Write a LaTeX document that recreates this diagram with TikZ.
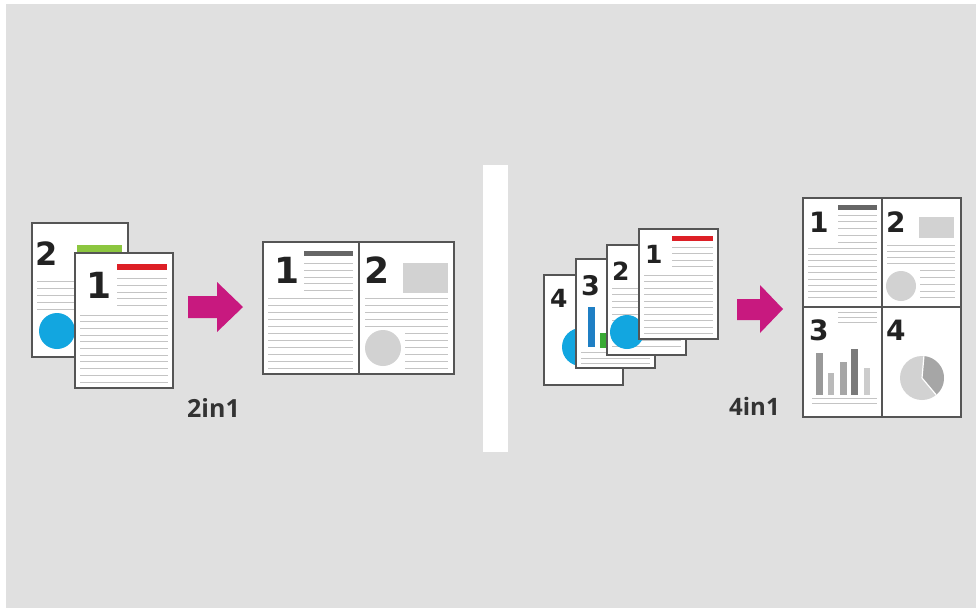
\documentclass[tikz,border=0pt]{standalone}
\usepackage{fontspec}
\setmainfont{Open Sans}
\newfontfamily\digfont{DejaVu Sans}
\definecolor{bggray}{HTML}{E0E0E0}
\definecolor{frame}{HTML}{555555}
\definecolor{txtline}{HTML}{C4C4C4}
\definecolor{magarrow}{HTML}{C8197F}
\definecolor{cyanc}{HTML}{12A6E0}
\definecolor{redbar}{HTML}{DD1F26}
\definecolor{greenbar}{HTML}{8CC63F}
\definecolor{bluebar}{HTML}{1F7FC4}
\definecolor{greenb}{HTML}{3AAA35}
\definecolor{lightfill}{HTML}{D2D2D2}
\definecolor{digit}{HTML}{222222}
\tikzset{
  pagebox/.style={fill=white,draw=frame,line width=2pt},
  tline/.style={draw=txtline,line width=1pt},
  dig/.style={inner sep=0pt,anchor=base west,text=digit,font=\digfont\bfseries\fontsize{#1}{#1}\selectfont},
  lbl/.style={inner sep=0pt,anchor=base west,text=black!80,font=\bfseries\fontsize{#1}{#1}\selectfont},
  blockarrow/.style={fill=magarrow,draw=none}
}
\begin{document}
\begin{tikzpicture}[x=1pt,y=-1pt]
\useasboundingbox (0,0) rectangle (976,608);
\fill[white] (0,0) rectangle (976,608);
\fill[bggray] (6,4) rectangle (976,608);

% ---------- left stack ----------
% page 2
\draw[pagebox] (32,223) rectangle (128,357);
\node[dig=32] (l2num) at (35,265) {2};
\fill[greenbar] (77,245) rectangle (122,262);
\foreach \y in {281,288,295,302,309} \draw[tline] (37,\y) -- (122,\y);
\fill[cyanc] (57,331) circle (18);
% page 1
\draw[pagebox] (75,253) rectangle (173,388);
\node[dig=36] (l1num) at (86,298) {1};
\fill[redbar] (117,264) rectangle (167,270);
\foreach \y in {278,285,292,298,305} \draw[tline] (117,\y) -- (167,\y);
\foreach \i in {0,...,10} \draw[tline] (80,315+\i*6.7) -- (168,315+\i*6.7);

% arrow left
\fill[blockarrow] (188,296) -- (217,296) -- (217,282) -- (243,307) -- (217,332) -- (217,318) -- (188,318) -- cycle;
\node[lbl=25] (lab2) at (187,417) {2in1};

% ---------- 2in1 result ----------
\fill[white] (263,242) rectangle (454,374);
\fill[frame!90] (304,251) rectangle (353,256);
\node[dig=36] (r1num) at (274,283) {1};
\foreach \y in {263,270,277,283,290} \draw[tline] (304,\y) -- (353,\y);
\foreach \i in {0,...,10} \draw[tline] (268,298+\i*7) -- (353,298+\i*7);
\node[dig=36] (r2num) at (364,283) {2};
\fill[lightfill] (403,263) rectangle (448,293);
\foreach \y in {298,305,312,319,326} \draw[tline] (365,\y) -- (448,\y);
\foreach \y in {333,340,347,354,361,368} \draw[tline] (405,\y) -- (448,\y);
\fill[lightfill] (383,348) circle (18);
\draw[frame,line width=2.6pt] (263,242) rectangle (454,374);
\draw[frame,line width=2.6pt] (359,242) -- (359,374);

% divider
\fill[white] (483,165) rectangle (508,452);

% ---------- right stack ----------
% page 4
\draw[pagebox] (544,275) rectangle (623,385);
\node[dig=25] (s4num) at (550,307) {4};
\fill[cyanc] (581,347) circle (19);
% page 3
\draw[pagebox] (576,259) rectangle (655,368);
\node[dig=27] (s3num) at (581,295) {3};
\fill[bluebar] (588,307) rectangle (595,347);
\fill[greenb] (600,333) rectangle (607,348);
\foreach \y in {352,358,363} \draw[tline] (581,\y) -- (650,\y);
% page 2
\draw[pagebox] (607,245) rectangle (686,355);
\node[dig=25] (s2num) at (612,280) {2};
\foreach \i in {0,...,9} \draw[tline] (612,288+\i*6.5) -- (681,288+\i*6.5);
\fill[cyanc] (627,332) circle (17);
% page 1
\draw[pagebox] (639,229) rectangle (718,339);
\node[dig=25] (s1num) at (645,263) {1};
\fill[redbar] (672,236) rectangle (713,241);
\foreach \y in {247,253,260,266} \draw[tline] (672,\y) -- (713,\y);
\foreach \i in {0,...,9} \draw[tline] (644,275+\i*6.5) -- (713,275+\i*6.5);

% arrow right
\fill[blockarrow] (737,299) -- (760,299) -- (760,285) -- (783,309) -- (760,333) -- (760,320) -- (737,320) -- cycle;
\node[lbl=24] (lab4) at (729,415) {4in1};

% ---------- 4in1 result ----------
\fill[white] (803,198) rectangle (961,417);
% Q1
\node[dig=28] (q1num) at (809,232) {1};
\fill[frame!90] (838,205) rectangle (877,210);
\foreach \y in {215,221,228,235,242} \draw[tline] (838,\y) -- (877,\y);
\foreach \i in {0,...,8} \draw[tline] (808,248+\i*6.2) -- (877,248+\i*6.2);
% Q2
\node[dig=28] (q2num) at (886,232) {2};
\fill[lightfill] (919,217) rectangle (954,238);
\foreach \y in {245,251,257,263} \draw[tline] (887,\y) -- (955,\y);
\foreach \y in {270,277,284,291,297} \draw[tline] (920,\y) -- (955,\y);
\fill[lightfill] (901,286) circle (15);
% Q3
\node[dig=28] (q3num) at (809,340) {3};
\foreach \y in {312,317,322} \draw[tline] (838,\y) -- (877,\y);
\fill[black!40] (816,353) rectangle (823,395);
\fill[black!27] (828,373) rectangle (834,395);
\fill[black!35] (840,362) rectangle (847,395);
\fill[black!52] (851,349) rectangle (858,395);
\fill[black!20] (864,368) rectangle (870,395);
\foreach \y in {398,403} \draw[tline] (812,\y) -- (877,\y);
% Q4
\node[dig=28] (q4num) at (886,340) {4};
\fill[lightfill] (922,378) circle (22);
\fill[black!35] (922,378) -- ++(-85:22) arc[start angle=-85,end angle=50,radius=22] -- cycle;
\draw[white,line width=1.2pt] (922,378) -- ++(-85:22);
\draw[white,line width=1.2pt] (922,378) -- ++(50:22);
\draw[frame,line width=2.6pt] (803,198) rectangle (961,417);
\draw[frame,line width=2.6pt] (882,198) -- (882,417);
\draw[frame,line width=2.6pt] (803,307) -- (961,307);
\end{tikzpicture}
\end{document}
